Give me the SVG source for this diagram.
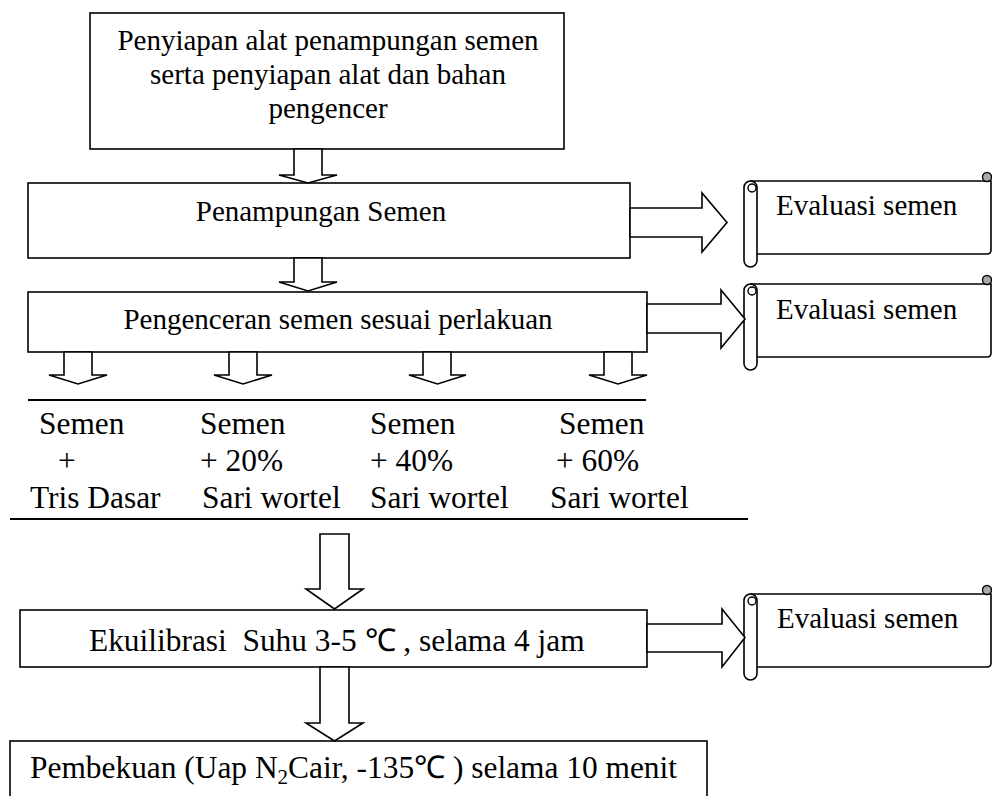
<svg xmlns="http://www.w3.org/2000/svg" xmlns:xlink="http://www.w3.org/1999/xlink" width="992" height="796" viewBox="0 0 992 796">
<style>
.box{fill:#fff;stroke:#000;stroke-width:1.6}
.arr{fill:#fff;stroke:#000;stroke-width:1.6;stroke-linejoin:miter}
.ln{stroke:#000;stroke-width:1.8}
text{font-family:"Liberation Serif","Times New Roman",serif;font-size:29px;fill:#000}
.big{font-size:31.4px}
.mid{text-anchor:middle}
</style>
<defs>
<g id="scroll">
<path d="M13,73 H243 Q247,73 247,69 V0 H6" fill="#fff" stroke="#000" stroke-width="1.6"/>
<circle cx="243" cy="-4" r="4.5" fill="#aaa" stroke="#000" stroke-width="1.4"/>
<rect x="0" y="0" width="13" height="86" rx="6.5" fill="#fff" stroke="#000" stroke-width="1.6"/>
<circle cx="8" cy="7" r="4" fill="#fff" stroke="#000" stroke-width="1.4"/>
</g>
</defs>

<g id="n-persiapan">
<rect class="box" x="90" y="13" width="474" height="136"/>
<text class="mid" x="328" y="50">Penyiapan alat penampungan semen</text>
<text class="mid" x="328" y="84">serta penyiapan alat dan bahan</text>
<text class="mid" x="328" y="118">pengencer</text>
</g>

<g id="n-penampungan">
<rect class="box" x="28" y="183" width="602" height="75"/>
<text class="mid" x="321" y="221">Penampungan Semen</text>
</g>

<g id="n-eval1">
<use xlink:href="#scroll" href="#scroll" transform="translate(744,181)"/>
<text x="776" y="215">Evaluasi semen</text>
</g>

<g id="n-pengenceran">
<rect class="box" x="28" y="292" width="619" height="60"/>
<text class="mid" x="338" y="329">Pengenceran semen sesuai perlakuan</text>
</g>

<g id="n-eval2">
<use xlink:href="#scroll" href="#scroll" transform="translate(744,284)"/>
<text x="776" y="319">Evaluasi semen</text>
</g>

<g id="n-perlakuan">
<line class="ln" x1="28" y1="400" x2="646" y2="400"/>
<text class="big" x="39" y="434">Semen</text>
<text class="big" x="58" y="471">+</text>
<text class="big" x="30" y="508">Tris Dasar</text>
<text class="big" x="200" y="434">Semen</text>
<text class="big" x="200" y="471">+ 20%</text>
<text class="big" x="202" y="508">Sari wortel</text>
<text class="big" x="370" y="434">Semen</text>
<text class="big" x="370" y="471">+ 40%</text>
<text class="big" x="370" y="508">Sari wortel</text>
<text class="big" x="559" y="434">Semen</text>
<text class="big" x="556" y="471">+ 60%</text>
<text class="big" x="550" y="508">Sari wortel</text>
<line class="ln" x1="10" y1="519" x2="748" y2="519"/>
</g>

<g id="n-ekuilibrasi">
<rect class="box" x="20" y="610" width="627" height="57"/>
<text class="big" x="89" y="651" xml:space="preserve" style="white-space:pre">Ekuilibrasi  Suhu 3-5 ℃ , selama 4 jam</text>
</g>

<g id="n-eval3">
<use xlink:href="#scroll" href="#scroll" transform="translate(744,594)"/>
<text x="777" y="628">Evaluasi semen</text>
</g>

<g id="n-pembekuan">
<rect class="box" x="10" y="741" width="697" height="80"/>
<text class="big" x="30" y="778">Pembekuan (Uap N<tspan font-size="21" dy="6">2</tspan><tspan dy="-6">Cair, -135℃ ) selama 10 menit</tspan></text>
</g>

<g id="connectors">
<path class="arr" d="M294,149 V175 H279 L308,183 L337,175 H322 V149 Z"/>
<path class="arr" d="M294,258 V282 H279 L308,291 L337,282 H322 V258 Z"/>
<path class="arr" d="M630,208 H702 V193 L727,222.5 L702,252 V237 H630 Z"/>
<path class="arr" d="M647,304 H721 V290 L745,319 L721,348 V333 H647 Z"/>
<path class="arr" d="M64,352 V375 H49 L78,384 L107,375 H92 V352 Z"/>
<path class="arr" d="M229,352 V375 H214 L243,384 L272,375 H257 V352 Z"/>
<path class="arr" d="M423,352 V375 H409 L437.5,384 L466,375 H451 V352 Z"/>
<path class="arr" d="M604,352 V375 H589 L618,384 L647,375 H632 V352 Z"/>
<path class="arr" d="M320,534 V589 H306 L334.5,609 L363,589 H349 V534 Z"/>
<path class="arr" d="M647,624 H722 V609 L745,637.5 L722,667 V652 H647 Z"/>
<path class="arr" d="M320,667 V723 H306 L334.5,741 L363,723 H349 V667 Z"/>
</g>
</svg>
